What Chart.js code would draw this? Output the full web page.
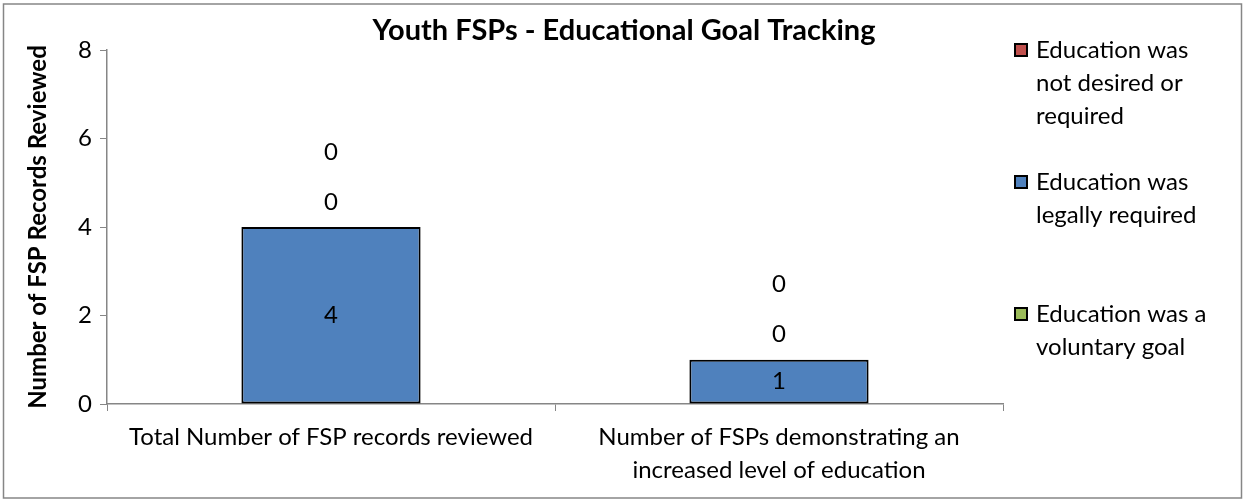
<!DOCTYPE html>
<html>
<head>
<meta charset="utf-8">
<title>Youth FSPs - Educational Goal Tracking</title>
<script src="https://cdn.jsdelivr.net/npm/chart.js@4/dist/chart.umd.min.js"></script>
<style>
    html, body { margin: 0; padding: 0; background: #ffffff; }
    #wrap { width: 1244px; height: 500px; }
</style>
</head>
<body>
<div id="wrap"><canvas id="goalChart" width="1244" height="500"></canvas></div>
<script>
// Categories and series
const categories = [
    'Total Number of FSP records reviewed',
    ['Number of FSPs demonstrating an', 'increased level of education']
];
const notDesired = [0, 0];
const legallyRequired = [4, 1];
const voluntaryGoal = [0, 0];

const seriesNames = [
    ['Education was', 'not desired or', 'required'],
    ['Education was', 'legally required'],
    ['Education was a', 'voluntary goal']
];
const seriesColors = ['#C0504D', '#4F81BD', '#9BBB59'];

const yTicks = [0, 2, 4, 6, 8];

const FONT = "Lato, 'Open Sans', sans-serif";
const TEXT_SIZE = 24;
const AXIS_GREY = '#868686';

// Title, axis title, value labels, legend and frame
const decorations = {
    id: 'decorations',
    afterDraw(chart) {
        const ctx = chart.ctx;
        const area = chart.chartArea;
        ctx.save();

        // outer frame
        ctx.strokeStyle = AXIS_GREY;
        ctx.lineWidth = 1.5;
        ctx.strokeRect(3.5, 4, 1238, 494);

        // chart title
        ctx.fillStyle = '#000';
        ctx.font = `bold 29px ${FONT}`;
        ctx.textAlign = 'center';
        ctx.textBaseline = 'middle';
        ctx.fillText('Youth FSPs - Educational Goal Tracking', 624, 31);

        // y axis title
        ctx.save();
        ctx.translate(38, (area.top + area.bottom) / 2);
        ctx.rotate(-Math.PI / 2);
        ctx.font = `bold ${TEXT_SIZE}px ${FONT}`;
        ctx.fillText('Number of FSP Records Reviewed', 0, 0);
        ctx.restore();

        // value labels: non-zero inside the bar, zeros stacked above the column
        ctx.font = `${TEXT_SIZE}px ${FONT}`;
        categories.forEach((_, i) => {
            let top = area.bottom;
            let x = 0;
            const zeros = [];
            chart.data.datasets.forEach((ds, d) => {
                const bar = chart.getDatasetMeta(d).data[i];
                x = bar.x;
                const v = ds.data[i];
                if (v === 0) {
                    zeros.push(v);
                } else {
                    top = Math.min(top, bar.y);
                    ctx.fillText(String(v), bar.x, (bar.y + bar.base) / 2);
                }
            });
            zeros.forEach((v, k) => {
                ctx.fillText(String(v), x, top - 25 - 50 * k);
            });
        });

        // legend
        ctx.textAlign = 'left';
        seriesNames.forEach((lines, s) => {
            const y0 = 50 + s * 132;
            ctx.fillStyle = seriesColors[s];
            ctx.fillRect(1015, y0 - 6, 12, 12);
            ctx.strokeStyle = '#000';
            ctx.lineWidth = 2;
            ctx.strokeRect(1015, y0 - 6, 12, 12);
            ctx.fillStyle = '#000';
            lines.forEach((t, j) => ctx.fillText(t, 1036, y0 + j * 33));
        });

        ctx.restore();
    }
};

const chart = new Chart(document.getElementById('goalChart'), {
    type: 'bar',
    data: {
        labels: categories,
        datasets: [
            { label: seriesNames[0].join(' '), data: notDesired, backgroundColor: seriesColors[0], borderWidth: 0 },
            { label: seriesNames[1].join(' '), data: legallyRequired, backgroundColor: seriesColors[1], borderWidth: 2 },
            { label: seriesNames[2].join(' '), data: voluntaryGoal, backgroundColor: seriesColors[2], borderWidth: 0 }
        ]
    },
    options: {
        responsive: false,
        animation: false,
        layout: { padding: { left: 0, right: 241, top: 50, bottom: 0 } },
        datasets: {
            bar: {
                categoryPercentage: 0.4,
                barPercentage: 1,
                borderColor: '#000',
                borderSkipped: false
            }
        },
        plugins: {
            legend: { display: false },
            title: { display: false },
            tooltip: { enabled: false }
        },
        scales: {
            x: {
                stacked: true,
                afterFit: (scale) => { scale.height = 96; },
                grid: {
                    offset: true,
                    drawOnChartArea: false,
                    tickLength: 7,
                    color: AXIS_GREY
                },
                border: { color: AXIS_GREY, width: 1.5 },
                ticks: {
                    color: '#000',
                    padding: 10,
                    font: { family: FONT, size: TEXT_SIZE, lineHeight: '33px' },
                    maxRotation: 0,
                    autoSkip: false
                }
            },
            y: {
                stacked: true,
                min: yTicks[0],
                max: yTicks[yTicks.length - 1],
                afterFit: (scale) => { scale.width = 107; },
                afterBuildTicks: (scale) => { scale.ticks = yTicks.map(v => ({ value: v })); },
                grid: {
                    drawOnChartArea: false,
                    tickLength: 7,
                    color: AXIS_GREY
                },
                border: { color: AXIS_GREY, width: 1.5 },
                ticks: {
                    color: '#000',
                    padding: 8,
                    font: { family: FONT, size: TEXT_SIZE }
                }
            }
        }
    },
    plugins: [decorations]
});
</script>
</body>
</html>
